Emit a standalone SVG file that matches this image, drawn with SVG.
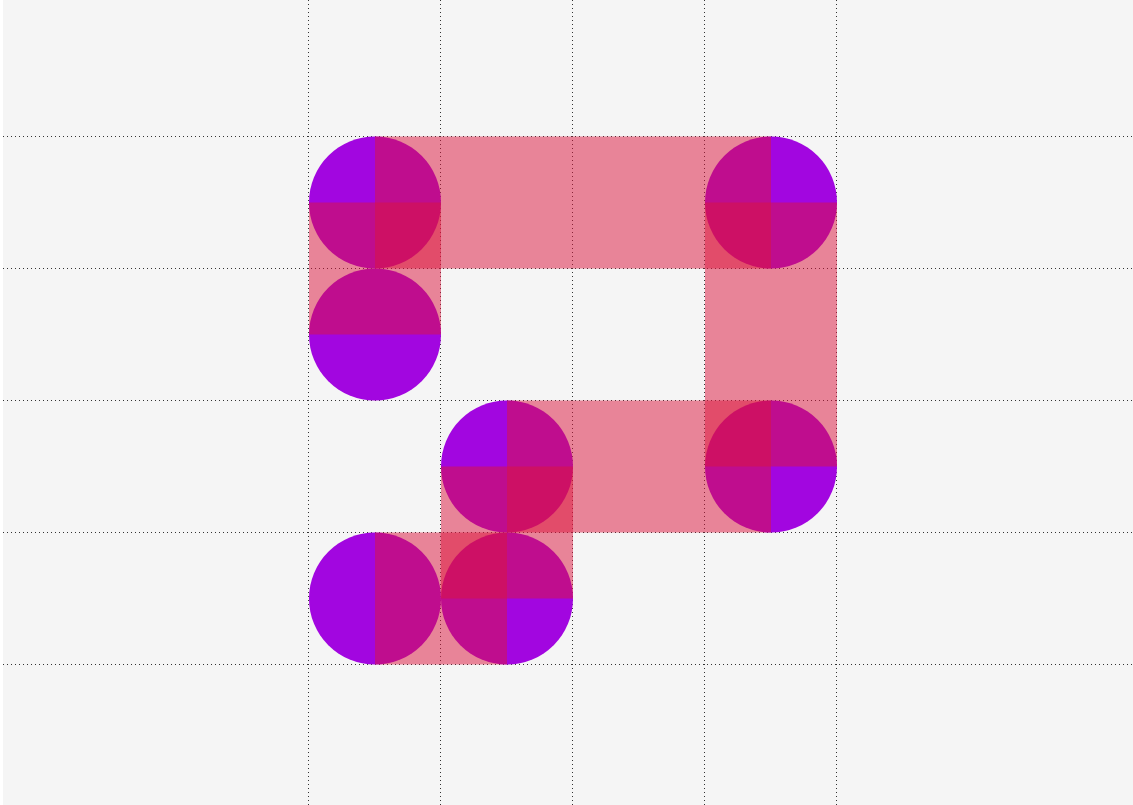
<svg xmlns="http://www.w3.org/2000/svg" width="1133" height="805" viewBox="0 0 1133 805">
  <style>
    .grid { stroke: #333; stroke-width: 1; stroke-dasharray: 1 3; fill: none; }
    .dot { fill: #a206e0; }
    .band { fill: #dc143c; fill-opacity: 0.5; }
  </style>
  <rect x="0" y="0" width="1133" height="805" fill="#ffffff"/>
  <rect x="3" y="0" width="1130" height="805" fill="#f5f5f5"/>
  <g id="grid">
    <line class="grid" x1="308.5" y1="0" x2="308.5" y2="805"/>
    <line class="grid" x1="440.5" y1="0" x2="440.5" y2="805"/>
    <line class="grid" x1="572.5" y1="0" x2="572.5" y2="805"/>
    <line class="grid" x1="704.5" y1="0" x2="704.5" y2="805"/>
    <line class="grid" x1="836.5" y1="0" x2="836.5" y2="805"/>
    <line class="grid" x1="3" y1="136.5" x2="1133" y2="136.5"/>
    <line class="grid" x1="3" y1="268.5" x2="1133" y2="268.5"/>
    <line class="grid" x1="3" y1="400.5" x2="1133" y2="400.5"/>
    <line class="grid" x1="3" y1="532.5" x2="1133" y2="532.5"/>
    <line class="grid" x1="3" y1="664.5" x2="1133" y2="664.5"/>
  </g>
  <g id="nodes">
    <g id="n1"><circle class="dot" cx="375" cy="202.5" r="66"/></g>
    <g id="n2"><circle class="dot" cx="771" cy="202.5" r="66"/></g>
    <g id="n3"><circle class="dot" cx="375" cy="334.5" r="66"/></g>
    <g id="n4"><circle class="dot" cx="507" cy="466.5" r="66"/></g>
    <g id="n5"><circle class="dot" cx="771" cy="466.5" r="66"/></g>
    <g id="n6"><circle class="dot" cx="375" cy="598.5" r="66"/></g>
    <g id="n7"><circle class="dot" cx="507" cy="598.5" r="66"/></g>
  </g>
  <g id="connectors">
    <rect class="band" x="375" y="136.5" width="396" height="132"/>
    <rect class="band" x="309" y="202.5" width="132" height="132"/>
    <rect class="band" x="705" y="202.5" width="132" height="264"/>
    <rect class="band" x="507" y="400.5" width="264" height="132"/>
    <rect class="band" x="441" y="466.5" width="132" height="132"/>
    <rect class="band" x="375" y="532.5" width="132" height="132"/>
  </g>
</svg>
